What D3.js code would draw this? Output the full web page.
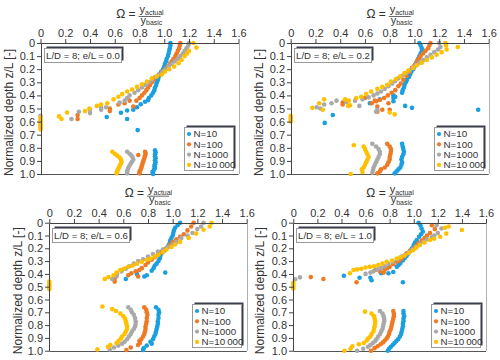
<!DOCTYPE html>
<html><head><meta charset="utf-8">
<script src="https://cdn.jsdelivr.net/npm/d3@7/dist/d3.min.js"></script>
<style>body{margin:0;background:#fff}</style>
</head><body>
<svg id="c" width="500" height="360" xmlns="http://www.w3.org/2000/svg"></svg>
<script>
// ---------------- data ----------------
const seriesNames = ["N=10", "N=100", "N=1000", "N=10\u2009000"];
const panelLabels = ["L/D = 8; e/L = 0.0", "L/D = 8; e/L = 0.2", "L/D = 8; e/L = 0.6", "L/D = 8; e/L = 1.0"];
const xTickValues = [0, 0.2, 0.4, 0.6, 0.8, 1.0, 1.2, 1.4, 1.6];
const xTickLabels = ["0", "0.2", "0.4", "0.6", "0.8", "1.0", "1.2", "1.4", "1.6"];
const yTickValues = [0, 0.1, 0.2, 0.3, 0.4, 0.5, 0.6, 0.7, 0.8, 0.9, 1.0];
const yTickLabels = ["0", "0.1", "0.2", "0.3", "0.4", "0.5", "0.6", "0.7", "0.8", "0.9", "1.0"];
const yAxisTitle = "Normalized depth z/L [-]";

// [omega, depth]
const p1_N10 = [[1.05,0.00],[1.05,0.02],[1.045,0.04],[1.04,0.06],[1.035,0.08],[1.03,0.10],[1.02,0.12],[1.015,0.14],[1.005,0.16],[1.0,0.18],[0.99,0.20],[0.975,0.22],[0.965,0.24],[0.955,0.26],[0.95,0.28],[0.94,0.30],[0.935,0.32],[0.925,0.34],[0.92,0.36],[0.91,0.38],[0.895,0.40],[0.875,0.42],[0.87,0.436],[0.845,0.448],[0.81,0.468],[0.78,0.49],[0.75,0.51],[0.70,0.515],[0.65,0.532],[0.535,0.565],[0.70,0.58],[0.785,0.665],
  [0.925,0.82],[0.93,0.835],[0.925,0.85],[0.925,0.865],[0.93,0.88],[0.925,0.895],[0.93,0.91],[0.925,0.925],[0.92,0.94],[0.925,0.955],[0.915,0.97],[0.905,0.985],[0.91,1.0]];
const p1_N100 = [[1.13,0.00],[1.125,0.02],[1.12,0.04],[1.11,0.06],[1.10,0.08],[1.09,0.10],[1.075,0.12],[1.06,0.14],[1.045,0.16],[1.025,0.18],[1.005,0.20],[0.985,0.22],[0.96,0.24],[0.935,0.26],[0.915,0.28],[0.90,0.30],[0.885,0.32],[0.87,0.34],[0.855,0.36],[0.84,0.38],[0.82,0.40],[0.80,0.42],[0.775,0.44],[0.72,0.44],[0.68,0.46],[0.63,0.47],[0.75,0.485],[0.56,0.50],[0.56,0.52],[0.30,0.55],[0.30,0.58],
  [0.845,0.83],[0.85,0.845],[0.845,0.86],[0.84,0.875],[0.835,0.89],[0.83,0.905],[0.825,0.92],[0.82,0.935],[0.815,0.95],[0.81,0.965],[0.80,0.98],[0.80,0.995],[0.79,0.855]];
const p1_N1000 = [[1.20,0.00],[1.195,0.02],[1.18,0.04],[1.165,0.06],[1.15,0.08],[1.13,0.10],[1.11,0.12],[1.085,0.14],[1.06,0.16],[1.035,0.18],[1.01,0.20],[0.985,0.22],[0.955,0.24],[0.925,0.26],[0.90,0.28],[0.875,0.30],[0.85,0.32],[0.82,0.34],[0.79,0.36],[0.76,0.38],[0.72,0.40],[0.70,0.42],[0.68,0.44],[0.64,0.455],[0.53,0.49],[0.49,0.495],[0.49,0.51],[0.40,0.51],[0.40,0.535],[0.31,0.525],[0.25,0.58],[0.0,0.555],
  [0.70,0.83],[0.72,0.845],[0.735,0.86],[0.745,0.875],[0.75,0.89],[0.74,0.905],[0.73,0.92],[0.72,0.935],[0.71,0.95],[0.705,0.965],[0.70,0.98],[0.70,0.995]];
const p1_N10000 = [[1.235,0.00],[1.26,0.035],[1.20,0.06],[1.185,0.08],[1.165,0.10],[1.14,0.13],[1.115,0.155],[1.08,0.18],[1.04,0.20],[1.005,0.22],[0.98,0.24],[0.94,0.255],[0.90,0.27],[0.86,0.295],[0.82,0.315],[0.78,0.335],[0.74,0.355],[0.70,0.37],[0.66,0.39],[0.63,0.41],[0.59,0.43],[0.54,0.46],[0.49,0.47],[0.455,0.48],[0.395,0.50],[0.36,0.52],[0.215,0.53],[0.15,0.56],[0.17,0.58],[0,0.57],[0,0.585],[0,0.60],[0,0.615],[0,0.63],[0,0.645],[0,0.66],
  [0.58,0.83],[0.60,0.845],[0.62,0.86],[0.64,0.875],[0.65,0.89],[0.655,0.905],[0.65,0.92],[0.64,0.935],[0.635,0.95],[0.625,0.965],[0.62,0.98],[0.615,0.995]];

const p2_N10 = [[1.04,0.00],[1.05,0.02],[1.06,0.04],[1.06,0.06],[1.05,0.08],[1.04,0.10],[1.03,0.12],[1.02,0.14],[1.01,0.16],[1.0,0.18],[0.99,0.20],[0.975,0.22],[0.965,0.24],[0.955,0.26],[0.94,0.28],[0.93,0.30],[0.92,0.32],[0.915,0.34],[0.905,0.36],[0.90,0.38],[0.845,0.41],[0.83,0.40],[0.83,0.42],[0.83,0.445],[0.72,0.43],[0.64,0.46],[0.925,0.48],[0.98,0.495],[1.515,0.51],[0.34,0.55],[0.275,0.61],
  [0.90,0.77],[0.905,0.79],[0.91,0.81],[0.915,0.83],[0.91,0.85],[0.90,0.87],[0.895,0.89],[0.90,0.91],[0.895,0.93],[0.885,0.95],[0.87,0.965],[0.855,0.98],[0.84,0.995]];
const p2_N100 = [[1.13,0.00],[1.12,0.02],[1.11,0.04],[1.09,0.06],[1.07,0.08],[1.05,0.10],[1.035,0.12],[1.02,0.14],[1.0,0.17],[0.98,0.19],[0.96,0.22],[0.935,0.25],[0.91,0.28],[0.89,0.31],[0.87,0.33],[0.845,0.36],[0.815,0.38],[0.785,0.40],[0.755,0.42],[0.72,0.435],[0.69,0.445],[0.655,0.46],[0.60,0.42],[0.68,0.44],[0.79,0.46],[0.70,0.485],[0.70,0.525],[0.74,0.51],[0.80,0.51],[0.42,0.455],[0.42,0.47],
  [0.78,0.77],[0.80,0.79],[0.81,0.81],[0.81,0.83],[0.805,0.85],[0.80,0.87],[0.80,0.89],[0.79,0.91],[0.78,0.93],[0.76,0.95],[0.73,0.965],[0.72,0.98],[0.70,0.995]];
const p2_N1000 = [[1.20,0.00],[1.21,0.03],[1.19,0.05],[1.16,0.07],[1.13,0.09],[1.10,0.11],[1.07,0.13],[1.04,0.15],[1.01,0.17],[0.985,0.19],[0.96,0.21],[0.93,0.23],[0.90,0.25],[0.87,0.27],[0.845,0.29],[0.82,0.31],[0.79,0.33],[0.76,0.35],[0.73,0.37],[0.70,0.385],[0.67,0.40],[0.63,0.415],[0.58,0.43],[0.52,0.44],[0.45,0.45],[0.37,0.44],[0.33,0.46],[0.27,0.47],[0.21,0.49],[0.24,0.50],[0.555,0.48],[0.70,0.51],[0.69,0.525],
  [0.66,0.77],[0.69,0.79],[0.71,0.81],[0.72,0.83],[0.72,0.85],[0.71,0.87],[0.70,0.89],[0.69,0.91],[0.68,0.93],[0.67,0.95],[0.665,0.97],[0.66,0.99]];
const p2_N10000 = [[1.25,0.00],[1.255,0.02],[1.35,0.03],[1.26,0.05],[1.22,0.07],[1.18,0.09],[1.14,0.11],[1.10,0.13],[1.06,0.15],[1.02,0.17],[0.99,0.19],[0.95,0.21],[0.92,0.23],[0.885,0.255],[0.85,0.275],[0.81,0.295],[0.78,0.32],[0.74,0.335],[0.70,0.35],[0.65,0.37],[0.61,0.39],[0.57,0.41],[0.53,0.42],[0.47,0.44],[0.44,0.43],[0.27,0.43],[0.23,0.46],[0.175,0.495],[0.26,0.51],[0.465,0.48],[0.48,0.475],[0.80,0.53],[0.84,0.545],[0,0.555],[0,0.57],[0,0.585],[0,0.60],
  [0.51,0.78],[0.59,0.79],[0.60,0.81],[0.61,0.83],[0.62,0.85],[0.63,0.87],[0.62,0.89],[0.61,0.91],[0.60,0.93],[0.59,0.95],[0.575,0.965],[0.58,0.985],[0.485,1.0]];

const p3_N10 = [[1.06,0.00],[1.04,0.02],[1.02,0.04],[1.01,0.06],[1.005,0.08],[1.0,0.10],[0.99,0.12],[0.98,0.14],[0.975,0.16],[0.965,0.18],[0.95,0.20],[0.93,0.22],[0.91,0.24],[0.90,0.26],[0.895,0.28],[0.885,0.30],[0.87,0.32],[0.855,0.335],[0.845,0.355],[0.83,0.375],[0.94,0.39],[0.79,0.41],[0.77,0.42],[0.71,0.40],[0.62,0.44],
  [0.865,0.66],[0.885,0.68],[0.89,0.70],[0.885,0.72],[0.885,0.745],[0.88,0.77],[0.88,0.79],[0.875,0.81],[0.87,0.83],[0.865,0.85],[0.86,0.87],[0.85,0.89],[0.84,0.91],[0.82,0.93],[0.83,0.945],[0.79,0.96],[0.765,0.98],[0.76,0.995]];
const p3_N100 = [[1.17,0.00],[1.15,0.03],[1.12,0.06],[1.09,0.09],[1.06,0.11],[1.03,0.13],[1.0,0.15],[0.98,0.17],[0.96,0.19],[0.935,0.21],[0.91,0.23],[0.88,0.25],[0.855,0.27],[0.83,0.29],[0.80,0.31],[0.78,0.33],[0.75,0.355],[0.73,0.37],[0.70,0.38],[0.665,0.395],[0.72,0.42],[0.53,0.435],[0.53,0.46],[0.64,0.41],
  [0.77,0.66],[0.785,0.68],[0.79,0.70],[0.795,0.72],[0.79,0.745],[0.79,0.77],[0.785,0.79],[0.78,0.81],[0.78,0.83],[0.775,0.85],[0.77,0.87],[0.76,0.89],[0.745,0.91],[0.73,0.925],[0.735,0.94],[0.72,0.955],[0.66,0.975],[0.625,0.995]];
const p3_N1000 = [[1.25,0.00],[1.23,0.03],[1.20,0.05],[1.16,0.08],[1.12,0.10],[1.07,0.12],[1.03,0.15],[1.0,0.17],[0.96,0.19],[0.92,0.21],[0.88,0.225],[0.84,0.245],[0.80,0.265],[0.76,0.285],[0.72,0.30],[0.685,0.32],[0.65,0.34],[0.62,0.36],[0.585,0.38],[0.55,0.40],[0.545,0.42],[0.51,0.44],
  [0.64,0.66],[0.66,0.68],[0.67,0.70],[0.685,0.72],[0.695,0.745],[0.70,0.77],[0.70,0.79],[0.695,0.81],[0.685,0.83],[0.67,0.85],[0.66,0.87],[0.645,0.89],[0.63,0.91],[0.61,0.93],[0.59,0.945],[0.56,0.96],[0.525,0.975],[0.49,0.99]];
const p3_N10000 = [[1.315,0.00],[1.30,0.03],[1.25,0.055],[1.19,0.085],[1.13,0.12],[1.06,0.15],[1.02,0.17],[0.99,0.19],[0.95,0.21],[0.92,0.23],[0.885,0.25],[0.855,0.265],[0.82,0.28],[0.79,0.29],[0.75,0.305],[0.71,0.32],[0.675,0.335],[0.64,0.345],[0.605,0.36],[0.575,0.37],[0.545,0.39],[0.52,0.41],[0.48,0.425],[0.45,0.44],[0,0.46],[0,0.475],[0,0.49],[0,0.505],[0,0.52],
  [0.43,0.655],[0.51,0.675],[0.54,0.69],[0.575,0.71],[0.60,0.73],[0.615,0.75],[0.62,0.77],[0.625,0.79],[0.63,0.81],[0.63,0.83],[0.62,0.85],[0.61,0.87],[0.59,0.89],[0.58,0.905],[0.56,0.925],[0.545,0.94],[0.495,0.955],[0.475,0.97],[0.39,0.99]];

const p4_N10 = [[1.04,0.00],[1.055,0.02],[1.065,0.045],[1.075,0.07],[1.06,0.09],[1.045,0.11],[1.025,0.135],[1.01,0.155],[1.0,0.175],[0.985,0.20],[0.97,0.22],[0.955,0.24],[0.94,0.26],[0.925,0.275],[0.91,0.295],[0.89,0.315],[0.875,0.33],[0.86,0.345],[0.83,0.385],[0.79,0.395],[0.73,0.395],[0.64,0.43],[0.42,0.415],[0.55,0.43],[0.65,0.45],[0.91,0.465],
  [0.915,0.69],[0.915,0.71],[0.92,0.73],[0.915,0.75],[0.915,0.77],[0.91,0.79],[0.91,0.81],[0.905,0.83],[0.90,0.85],[0.895,0.87],[0.885,0.89],[0.87,0.91],[0.855,0.925],[0.84,0.94],[0.825,0.955],[0.81,0.97],[0.795,0.985],[0.785,1.0]];
const p4_N100 = [[1.15,0.02],[1.175,0.05],[1.135,0.08],[1.11,0.10],[1.09,0.12],[1.065,0.14],[1.04,0.16],[1.02,0.18],[1.0,0.20],[0.97,0.22],[0.94,0.24],[0.92,0.26],[0.90,0.28],[0.88,0.295],[0.86,0.305],[0.83,0.325],[0.80,0.345],[0.78,0.355],[0.76,0.365],[0.72,0.38],[0.75,0.39],[0.68,0.37],[0.525,0.465],[0.25,0.44],[0.145,0.425],
  [0.83,0.69],[0.835,0.71],[0.835,0.73],[0.83,0.75],[0.825,0.77],[0.82,0.79],[0.815,0.81],[0.81,0.83],[0.80,0.85],[0.795,0.87],[0.785,0.89],[0.775,0.905],[0.76,0.92],[0.745,0.935],[0.725,0.95],[0.70,0.965],[0.675,0.98],[0.645,1.0]];
const p4_N1000 = [[1.19,0.02],[1.23,0.045],[1.20,0.08],[1.17,0.10],[1.15,0.115],[1.11,0.13],[1.08,0.15],[1.05,0.17],[1.02,0.19],[0.99,0.21],[0.96,0.23],[0.93,0.25],[0.90,0.265],[0.865,0.285],[0.83,0.305],[0.79,0.32],[0.76,0.34],[0.73,0.355],[0.70,0.365],[0.665,0.38],[0.64,0.39],[0.60,0.40],[0.055,0.427],[0.015,0.442],
  [0.72,0.69],[0.74,0.71],[0.75,0.73],[0.755,0.75],[0.755,0.77],[0.75,0.79],[0.745,0.81],[0.74,0.83],[0.73,0.85],[0.72,0.87],[0.705,0.89],[0.69,0.91],[0.68,0.925],[0.66,0.94],[0.64,0.955],[0.62,0.97],[0.58,0.985],[0.53,1.0]];
const p4_N10000 = [[1.29,0.03],[1.26,0.04],[1.40,0.057],[1.27,0.085],[1.22,0.11],[1.17,0.125],[1.135,0.135],[1.09,0.155],[1.05,0.175],[1.02,0.195],[0.995,0.215],[0.96,0.235],[0.925,0.255],[0.89,0.27],[0.86,0.28],[0.82,0.295],[0.775,0.305],[0.74,0.32],[0.705,0.33],[0.67,0.34],[0.635,0.345],[0.60,0.35],[0.565,0.36],[0.53,0.365],[0.50,0.37],[0.47,0.395],[0,0.47],[0,0.485],[0,0.50],[0,0.515],
  [0.595,0.695],[0.65,0.71],[0.67,0.73],[0.675,0.75],[0.68,0.77],[0.68,0.79],[0.675,0.81],[0.67,0.83],[0.665,0.85],[0.65,0.87],[0.64,0.89],[0.62,0.905],[0.61,0.92],[0.585,0.94],[0.545,0.95],[0.49,0.965],[0.475,0.985],[0.425,1.0]];

const panelData = [
  [p1_N10, p1_N100, p1_N1000, p1_N10000],
  [p2_N10, p2_N100, p2_N1000, p2_N10000],
  [p3_N10, p3_N100, p3_N1000, p3_N10000],
  [p4_N10, p4_N100, p4_N1000, p4_N10000]
];

// ---------------- layout & style ----------------
const colors = ["#1a9fe0", "#ee7a25", "#a9a9a9", "#ffc000"];
const FONT = "'Liberation Sans', Arial, sans-serif";
const layout = [
  {x0: 40.5, x1: 238.5, y0: 43, y1: 174, labelX: 8.5},
  {x0: 290.7, x1: 488.7, y0: 43, y1: 174, labelX: 258.5},
  {x0: 49.3, x1: 246.7, y0: 222.7, y1: 350.7, labelX: 18},
  {x0: 293.3, x1: 486, y0: 222.7, y1: 350.7, labelX: 260}
];

const svg = d3.select("#c");
svg.append("rect").attr("width", 500).attr("height", 360).attr("fill", "#fff");

layout.forEach((L, pi) => {
  const g = svg.append("g");
  const x = d3.scaleLinear().domain([0, 1.6]).range([L.x0, L.x1]);
  const y = d3.scaleLinear().domain([0, 1.0]).range([L.y0, L.y1]);

  // frame: right (light) and bottom (dark)
  g.append("line").attr("x1", Math.round(L.x1) + 0.5).attr("x2", Math.round(L.x1) + 0.5)
    .attr("y1", L.y0).attr("y2", L.y1).attr("stroke", "#b0b0b0").attr("stroke-width", 1);
  g.append("line").attr("x1", L.x0).attr("x2", L.x1)
    .attr("y1", Math.round(L.y1) + 0.5).attr("y2", Math.round(L.y1) + 0.5)
    .attr("stroke", "#555").attr("stroke-width", 1);

  // points
  panelData[pi].forEach((ser, si) => {
    g.append("g").selectAll("circle").data(ser).join("circle")
      .attr("cx", d => x(d[0])).attr("cy", d => y(d[1])).attr("r", 2.3)
      .attr("fill", colors[si]);
  });

  // axes
  const xa = d3.axisTop(x).tickValues(xTickValues).tickFormat((d, i) => xTickLabels[i])
    .tickSize(4).tickSizeOuter(0).tickPadding(2);
  const ya = d3.axisLeft(y).tickValues(yTickValues).tickFormat((d, i) => yTickLabels[i])
    .tickSize(4).tickSizeOuter(0).tickPadding(2);
  const gx = g.append("g").attr("transform", `translate(0,${Math.round(L.y0)})`).call(xa);
  const gy = g.append("g").attr("transform", `translate(${Math.round(L.x0)},0)`).call(ya);
  [gx, gy].forEach(a => {
    a.selectAll("path,line").attr("stroke", "#444");
    a.selectAll("text").attr("fill", "#333").style("font-family", FONT).style("font-size", "11px");
  });

  // y axis title
  const cy = (L.y0 + L.y1) / 2 + 4;
  g.append("text").attr("transform", `translate(${L.labelX},${cy}) rotate(-90)`)
    .attr("text-anchor", "middle").attr("dy", "0.35em")
    .style("font-family", FONT).style("font-size", "12px").attr("fill", "#333")
    .text(yAxisTitle);

  // formula title
  const cx = (L.x0 + L.x1) / 2;
  const ty = L.y0;
  g.append("text").attr("x", cx - 4).attr("y", ty - 25.5).attr("text-anchor", "end")
    .style("font-family", FONT).style("font-size", "12px").attr("fill", "#333").text("\u03A9 =");
  g.append("line").attr("x1", cx - 1).attr("x2", cx + 21).attr("y1", ty - 26.5).attr("y2", ty - 26.5)
    .attr("stroke", "#444").attr("stroke-width", 0.8);
  const num = g.append("text").attr("x", cx).attr("y", ty - 30)
    .style("font-family", FONT).style("font-size", "11px").attr("fill", "#333");
  num.append("tspan").text("y");
  num.append("tspan").attr("dy", 1.8).style("font-size", "7px").text("actual");
  const den = g.append("text").attr("x", cx + 1).attr("y", ty - 19.5)
    .style("font-family", FONT).style("font-size", "11px").attr("fill", "#333");
  den.append("tspan").text("y");
  den.append("tspan").attr("dy", 1.8).style("font-size", "7px").text("basic");

  // annotation box
  const bx = Math.round(L.x0) + 3.5, by = Math.round(L.y0) + 5.5, bw = 77, bh = 14;
  g.append("rect").attr("x", bx + 2).attr("y", by - 2).attr("width", bw).attr("height", bh)
    .attr("fill", "#3a3d4e");
  g.append("rect").attr("x", bx).attr("y", by).attr("width", bw).attr("height", bh)
    .attr("fill", "#fff").attr("stroke", "#999").attr("stroke-width", 1);
  g.append("text").attr("x", bx + bw / 2).attr("y", by + bh / 2).attr("dy", "0.35em")
    .attr("text-anchor", "middle").style("font-family", FONT).style("font-size", "9.6px")
    .attr("fill", "#333").text(panelLabels[pi]);

  // legend
  const lw = 49, lh = 43;
  const lx = Math.round(L.x1) - 5.5 - lw, ly = Math.round(L.y1) - 3.5 - lh;
  g.append("rect").attr("x", lx + 2).attr("y", ly - 2).attr("width", lw).attr("height", lh)
    .attr("fill", "#3a3d4e");
  g.append("rect").attr("x", lx).attr("y", ly).attr("width", lw).attr("height", lh)
    .attr("fill", "#fff").attr("stroke", "#999").attr("stroke-width", 1);
  seriesNames.forEach((nm, si) => {
    const ry = ly + 6.5 + si * 10.3;
    g.append("circle").attr("cx", lx + 4.5).attr("cy", ry).attr("r", 2.1).attr("fill", colors[si]);
    g.append("text").attr("x", lx + 9).attr("y", ry).attr("dy", "0.35em")
      .style("font-family", FONT).style("font-size", "9.8px").attr("fill", "#333").text(nm);
  });
});
</script>
</body></html>
